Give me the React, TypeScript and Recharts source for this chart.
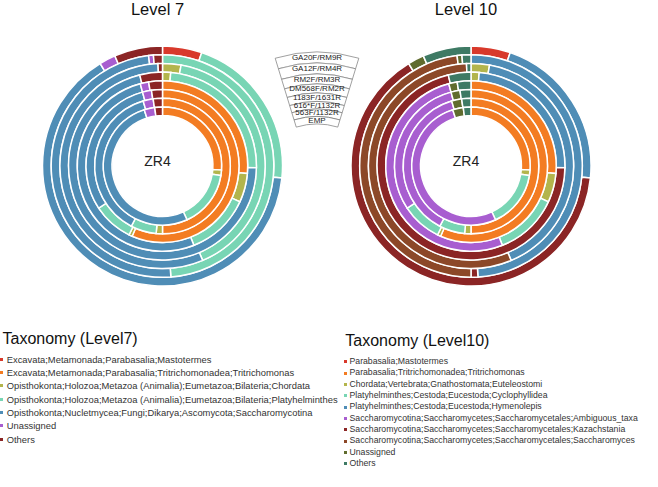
import React from 'react';
import { PieChart, Pie, Cell } from 'recharts';

// ring order: outermost first
const RINGS = [
  'GA20F/RM9R',
  'GA12F/RM4R',
  'RM2F/RM3R',
  'DM568F/RM2R',
  '1183F/1631R',
  '616*F/1132R',
  '563F/1132R',
  'EMP',
];

const L7_TAXA = [
  'Excavata;Metamonada;Parabasalia;Mastotermes',
  'Excavata;Metamonada;Parabasalia;Tritrichomonadea;Tritrichomonas',
  'Opisthokonta;Holozoa;Metazoa (Animalia);Eumetazoa;Bilateria;Chordata',
  'Opisthokonta;Holozoa;Metazoa (Animalia);Eumetazoa;Bilateria;Platyhelminthes',
  'Opisthokonta;Nucletmycea;Fungi;Dikarya;Ascomycota;Saccharomycotina',
  'Unassigned',
  'Others',
];
const L7_COLORS = ['#d8392b', '#f37c22', '#b3b54c', '#78d5b4', '#4f8db6', '#a85ed0', '#8b2525'];

// % per ring (rows = RINGS), columns = L7_TAXA
const L7_SHARES = [
  [5.3, 0, 0, 21.3, 64.7, 2.2, 6.5],
  [0, 0, 0, 48.8, 49.2, 0.7, 1.3],
  [0, 0, 2.9, 40.7, 55.7, 0, 0.7],
  [0, 0, 1.4, 23.9, 70.8, 0, 3.9],
  [0, 26.4, 5.5, 12.1, 51.8, 1.6, 2.6],
  [0, 56.5, 0.7, 8.5, 30.1, 1.9, 2.3],
  [0, 50.0, 1.5, 6.1, 37.8, 2.4, 2.2],
  [0, 26.1, 1.5, 15.6, 51.8, 2.9, 2.1],
];

const L10_TAXA = [
  'Parabasalia;Mastotermes',
  'Parabasalia;Tritrichomonadea;Tritrichomonas',
  'Chordata;Vertebrata;Gnathostomata;Euteleostomi',
  'Platyhelminthes;Cestoda;Eucestoda;Cyclophyllidea',
  'Platyhelminthes;Cestoda;Eucestoda;Hymenolepis',
  'Saccharomycotina;Saccharomycetes;Saccharomycetales;Ambiguous_taxa',
  'Saccharomycotina;Saccharomycetes;Saccharomycetales;Kazachstania',
  'Saccharomycotina;Saccharomycetes;Saccharomycetales;Saccharomyces',
  'Unassigned',
  'Others',
];
const L10_COLORS = [
  '#d8392b', '#f37c22', '#b3b54c', '#78d5b4', '#4f8db6',
  '#a85ed0', '#8b2525', '#8c4828', '#606c2e', '#3e7a64',
];

const L10_SHARES = [
  [5.3, 0, 0, 0, 21.3, 0, 64.7, 0, 2.2, 6.5],
  [0, 0, 0, 0, 49.0, 0, 1.0, 48.0, 0.7, 1.3],
  [0, 0, 2.9, 0, 40.7, 0, 0, 55.7, 0, 0.7],
  [0, 0, 1.4, 0, 23.9, 0, 70.8, 0, 0, 3.9],
  [0, 26.4, 5.5, 12.1, 0, 51.8, 0, 0, 1.6, 2.6],
  [0, 56.5, 0.7, 8.5, 0, 30.1, 0, 0, 1.9, 2.3],
  [0, 50.0, 1.5, 6.1, 0, 37.8, 0, 0, 2.4, 2.2],
  [0, 26.1, 1.5, 15.6, 0, 51.8, 0, 0, 2.9, 2.1],
];

const FONT = '"Liberation Sans", Arial, Helvetica, sans-serif';
const OUTER = 120;
const PITCH = 8.7;
const CY = 161;
// radii of the fan-shaped ring key, outer edge of each row then the last inner edge
const FAN_R = [143, 132, 121, 111, 102, 93.5, 86, 78.5, 71];

const ringData = (taxa: string[], colors: string[], shares: number[]) =>
  taxa
    .map((name, k) => ({ name, value: shares[k], color: colors[k] }))
    .filter((d) => d.value > 0);

const renderFanLabel = (props: any) => {
  const { cx, cy, innerRadius, outerRadius, name } = props;
  return (
    <text
      x={cx}
      y={cy - (innerRadius + outerRadius) / 2}
      textAnchor="middle"
      dominantBaseline="central"
      fontSize={8}
      fontFamily={FONT}
      fill="#222"
    >
      {name}
    </text>
  );
};

const renderRings = (
  prefix: string,
  cx: number,
  taxa: string[],
  colors: string[],
  shares: number[][],
) =>
  shares.map((row, i) => {
    const outer = OUTER - PITCH * i;
    const data = ringData(taxa, colors, row);
    return (
      <Pie
        key={`${prefix}-${i}`}
        data={data}
        dataKey="value"
        nameKey="name"
        cx={cx}
        cy={CY}
        outerRadius={outer}
        innerRadius={outer - PITCH}
        startAngle={90}
        endAngle={-270}
        stroke="#fff"
        strokeWidth={1.5}
        isAnimationActive={false}
      >
        {data.map((d, k) => (
          <Cell key={`c-${k}`} fill={d.color} />
        ))}
      </Pie>
    );
  });

const Legend = ({
  title,
  items,
  colors,
  left,
  top,
  rowTop,
  rowH,
  fontSize,
  markerX,
  textX,
}: any) => (
  <>
    <div
      style={{
        position: 'absolute',
        left,
        top,
        fontSize: 16,
        lineHeight: '16px',
        color: '#111',
        whiteSpace: 'nowrap',
      }}
    >
      {title}
    </div>
    {items.map((name: string, i: number) => (
      <div
        key={name}
        style={{
          position: 'absolute',
          left: 0,
          top: rowTop + rowH * i - rowH / 2,
          height: rowH,
          width: 658,
        }}
      >
        <div
          style={{
            position: 'absolute',
            left: markerX,
            top: rowH / 2 - 1.5,
            width: 3,
            height: 3,
            background: colors[i],
          }}
        />
        <div
          style={{
            position: 'absolute',
            left: textX,
            top: 0,
            fontSize,
            lineHeight: `${rowH}px`,
            color: '#333',
            whiteSpace: 'nowrap',
          }}
        >
          {name}
        </div>
      </div>
    ))}
  </>
);

const CenterLabel = ({ x }: { x: number }) => (
  <div
    style={{
      position: 'absolute',
      left: x - 30,
      width: 60,
      top: CY - 9,
      height: 18,
      lineHeight: '18px',
      textAlign: 'center',
      fontSize: 14,
      color: '#222',
    }}
  >
    ZR4
  </div>
);

export default function App() {
  return (
    <div
      style={{
        position: 'absolute',
        left: 0,
        top: 0,
        width: 658,
        height: 487,
        background: '#fff',
        fontFamily: FONT,
        overflow: 'hidden',
      }}
    >
      <div style={{ position: 'absolute', left: 0, width: 315, top: 0.5, textAlign: 'center', fontSize: 16.5, lineHeight: '16.5px', color: '#111' }}>
        Level 7
      </div>
      <div style={{ position: 'absolute', left: 308, width: 316, top: 0.5, textAlign: 'center', fontSize: 16.5, lineHeight: '16.5px', color: '#111' }}>
        Level 10
      </div>

      <div style={{ position: 'absolute', left: 0, top: 0 }}>
        <PieChart width={658} height={330}>
          {renderRings('l7', 157.5, L7_TAXA, L7_COLORS, L7_SHARES)}
          {renderRings('l10', 466, L10_TAXA, L10_COLORS, L10_SHARES)}
          {RINGS.map((ring, i) => (
            <Pie
              key={`fan-${i}`}
              data={[{ name: ring, value: 1 }]}
              dataKey="value"
              nameKey="name"
              cx={312}
              cy={190}
              outerRadius={FAN_R[i]}
              innerRadius={FAN_R[i + 1]}
              startAngle={107}
              endAngle={73}
              fill="#fff"
              stroke="#777"
              strokeWidth={0.7}
              label={renderFanLabel}
              labelLine={false}
              isAnimationActive={false}
            />
          ))}
        </PieChart>
      </div>

      <CenterLabel x={157.5} />
      <CenterLabel x={466} />

      <Legend
        title="Taxonomy (Level7)"
        items={L7_TAXA}
        colors={L7_COLORS}
        left={2.5}
        top={330.5}
        rowTop={359.3}
        rowH={13.33}
        fontSize={9.4}
        markerX={-0.5}
        textX={6.7}
      />
      <Legend
        title="Taxonomy (Level10)"
        items={L10_TAXA}
        colors={L10_COLORS}
        left={345.3}
        top={332.8}
        rowTop={361.8}
        rowH={11.33}
        fontSize={8.7}
        markerX={344}
        textX={349.5}
      />
    </div>
  );
}
